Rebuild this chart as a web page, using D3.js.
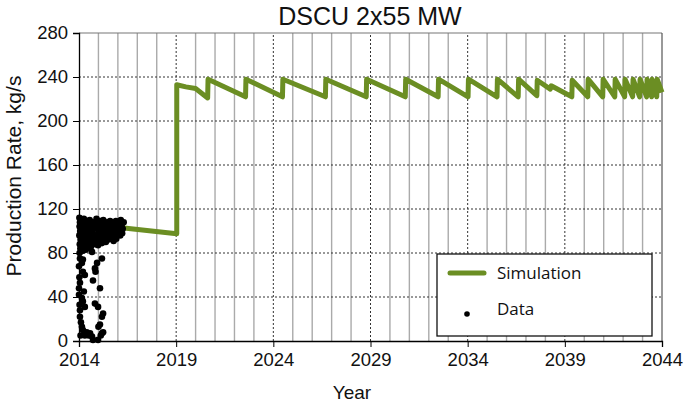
<!DOCTYPE html>
<html><head><meta charset="utf-8">
<script src="https://cdn.jsdelivr.net/npm/d3@7/dist/d3.min.js"></script>
<style>body{margin:0;background:#fff}svg{display:block}</style>
</head><body>
<svg id="c" width="685" height="403"></svg>
<script>
const title = "DSCU 2x55 MW";
const xLabel = "Year";
const yLabel = "Production Rate, kg/s";
const xTicks = [2014, 2019, 2024, 2029, 2034, 2039, 2044];
const yTicks = [0, 40, 80, 120, 160, 200, 240, 280];
const legendLabels = ["Simulation", "Data"];

const simYears = [2016.2, 2019.03, 2019.03, 2019.5, 2020.0, 2020.62, 2020.64, 2022.57, 2022.59, 2024.47, 2024.49,
  2026.68, 2026.7, 2028.78, 2028.8, 2030.79, 2030.81, 2032.48, 2032.5, 2034.02, 2034.04, 2035.51, 2035.53,
  2036.6, 2036.62, 2037.56, 2037.58, 2038.25, 2038.3, 2039.36, 2039.38, 2040.18, 2040.2, 2040.95, 2040.97,
  2041.57, 2041.59, 2042.08, 2042.1, 2042.49, 2042.51, 2042.85, 2042.87, 2043.21, 2043.23, 2043.47, 2043.49,
  2043.73, 2043.75, 2044.0];
const simValues = [103, 97.5, 233, 231, 229.5, 221, 238, 222, 238, 222, 238,
  222, 238, 222, 238, 222, 238, 222, 238, 222, 238, 222, 238,
  222, 238, 223, 237, 229, 232, 222, 237, 222, 238, 222, 238,
  222, 238, 222, 238, 222, 238, 222, 238, 222, 238, 222, 238,
  222, 238, 226];

const dataYears = [2014.02,2014.05,2014.03,2014.06,2014.02,2014.08,2014.04,2014.07,2014.03,2014.1,2014.12,2014.15,2014.11,2014.16,2014.13,2014.18,2014.2,
  2014.25,2014.28,2014.22,2014.3,2014.26,2014.32,2014.29,2014.35,
  2014.4,2014.45,2014.38,2014.48,2014.42,2014.5,2014.46,
  2014.55,2014.6,2014.52,2014.65,2014.58,2014.68,2014.62,
  2014.72,2014.78,2014.7,2014.82,2014.75,2014.85,
  2014.9,2014.95,2014.88,2015.0,2014.93,2015.02,2014.98,
  2015.08,2015.12,2015.05,2015.15,2015.1,2015.18,
  2015.25,2015.3,2015.22,2015.35,2015.28,2015.38,
  2015.45,2015.5,2015.42,2015.55,2015.48,
  2015.6,2015.65,2015.58,2015.7,2015.62,
  2015.75,2015.8,2015.72,2015.85,2015.78,
  2015.9,2015.95,2015.88,2016.0,2015.92,
  2016.05,2016.1,2016.02,2016.15,2016.2,2016.12,2016.25,2016.3,2016.22,
  2014.05,2014.15,2014.2,2014.3,2014.05,2014.0,2014.15,2014.2,2014.3,2014.05,2014.05,2014.1,2014.15,2014.2,
  2014.4,2014.57,2014.67,2014.72,2014.98,2015.18,2015.24,2015.08,2015.18,2014.98,2015.24,2014.82,2015.08,
  2014.72,2014.82,2014.93,2015.18,2014.67,2014.0,2014.02,2014.0,2014.03,2014.08,2014.3,2014.2,2014.5,
  2014.85,2015.0,2015.12,2014.25];
const dataValues = [112,108,104,100,96,92,88,84,80,110,106,102,98,94,90,86,82,
  111,107,103,99,95,91,87,83,
  109,105,101,97,93,89,85,
  110,106,102,98,94,90,86,
  108,104,100,96,92,88,
  111,107,103,99,95,91,87,
  109,105,101,97,93,89,
  110,106,102,98,94,90,
  108,104,100,96,92,
  109,105,101,97,93,
  107,103,99,95,91,
  109,105,101,97,93,
  108,104,100,110,106,96,102,108,98,
  75,71,63,60,53,48,39,36,31,28,22,17,13,10,
  8,7,4,1,1,7,8,15,22,31,25,34,48,
  55,66,71,75,81,68,58,42,33,5,5,74,5,
  63,13,5,45];

const svg = d3.select("#c");
const x = d3.scaleLinear().domain([2014, 2044]).range([79, 662]);
const y = d3.scaleLinear().domain([0, 280]).range([341, 33]);
const font = "'Liberation Sans', Arial, sans-serif";
const green = "#6b8e23";

// yearly gridlines
const years = d3.range(2015, 2044);
svg.append("g").selectAll("line").data(years.filter(v => (v - 2014) % 5 !== 0)).join("line")
  .attr("x1", d => x(d)).attr("x2", d => x(d)).attr("y1", y(0)).attr("y2", y(280))
  .attr("stroke", "#aaa").attr("stroke-width", 1.4);
svg.append("g").selectAll("line").data(xTicks.slice(1, -1)).join("line")
  .attr("x1", d => x(d)).attr("x2", d => x(d)).attr("y1", y(0)).attr("y2", y(280))
  .attr("stroke", "#333").attr("stroke-width", 1).attr("stroke-dasharray", "2,2");
svg.append("g").selectAll("line").data(yTicks.slice(1, -1)).join("line")
  .attr("x1", x(2014)).attr("x2", x(2044)).attr("y1", d => y(d)).attr("y2", d => y(d))
  .attr("stroke", "#333").attr("stroke-width", 1).attr("stroke-dasharray", "2,2");
// frame top/right
svg.append("line").attr("x1", x(2014)).attr("x2", x(2044)).attr("y1", y(280)).attr("y2", y(280)).attr("stroke", "#777").attr("stroke-width", 1.2);
svg.append("line").attr("x1", x(2044)).attr("x2", x(2044)).attr("y1", y(280)).attr("y2", y(0)).attr("stroke", "#555").attr("stroke-width", 1.2);

// axes
const xAxis = d3.axisBottom(x).tickValues(xTicks).tickFormat(d3.format("d")).tickSize(6).tickPadding(6);
const gx = svg.append("g").attr("transform", `translate(0,${y(0)})`).call(xAxis);
const yAxis = d3.axisLeft(y).tickValues(yTicks).tickSize(6).tickPadding(5);
const gy = svg.append("g").attr("transform", `translate(${x(2014)},0)`).call(yAxis);
[gx, gy].forEach(g => {
  g.select(".domain").attr("stroke", "#000").attr("stroke-width", 1.3);
  g.selectAll(".tick line").attr("stroke", "#000");
  g.selectAll("text").attr("font-family", font).attr("font-size", 18.5).attr("fill", "#111");
});

// simulation line
const pts = simYears.map((d, i) => [d, simValues[i]]);
svg.append("path").datum(pts)
  .attr("d", d3.line().x(d => x(d[0])).y(d => y(d[1])))
  .attr("fill", "none").attr("stroke", green).attr("stroke-width", 5).attr("stroke-linejoin", "round");

// data dots
svg.append("g").selectAll("circle").data(dataYears.map((d, i) => [d, dataValues[i]])).join("circle")
  .attr("cx", d => x(d[0])).attr("cy", d => y(d[1])).attr("r", 3.3).attr("fill", "#000");

// legend
const lg = svg.append("g");
lg.append("rect").attr("x", 437).attr("y", 254).attr("width", 215).attr("height", 82)
  .attr("fill", "#fff").attr("stroke", "#111").attr("stroke-width", 1.3);
lg.append("line").attr("x1", 450).attr("x2", 484).attr("y1", 273).attr("y2", 273)
  .attr("stroke", green).attr("stroke-width", 5).attr("stroke-linecap", "round");
lg.append("circle").attr("cx", 467).attr("cy", 314).attr("r", 2.8).attr("fill", "#000");
lg.selectAll("text").data(legendLabels).join("text")
  .attr("x", 497).attr("y", (d, i) => 279 + i * 36)
  .attr("font-family", "'Open Sans', 'Noto Sans', sans-serif").attr("font-size", 17).attr("fill", "#111")
  .text(d => d);

// titles
svg.append("text").attr("x", 370).attr("y", 25).attr("text-anchor", "middle")
  .attr("font-family", font).attr("font-size", 25).attr("fill", "#111").text(title);
svg.append("text").attr("x", 352).attr("y", 399).attr("text-anchor", "middle")
  .attr("font-family", font).attr("font-size", 19).attr("fill", "#111").text(xLabel);
svg.append("text").attr("transform", `translate(21,176) rotate(-90)`).attr("text-anchor", "middle")
  .attr("font-family", font).attr("font-size", 21).attr("fill", "#111").text(yLabel);
</script>
</body></html>
